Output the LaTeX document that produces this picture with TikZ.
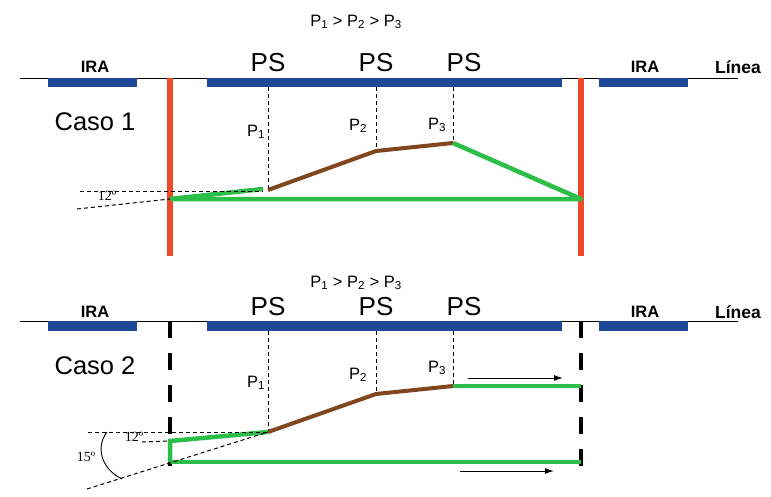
\documentclass[tikz,border=0pt]{standalone}
\usepackage{fontspec}
\setmainfont{Liberation Sans}
\newfontfamily\degfont{Liberation Serif}
\usetikzlibrary{arrows.meta}
\definecolor{barblue}{RGB}{32,72,152}
\definecolor{wallred}{RGB}{238,72,40}
\definecolor{flowgreen}{RGB}{44,190,72}
\definecolor{pathbrown}{RGB}{128,70,30}
\tikzset{
  baseline/.style={line width=1pt,black},
  bar/.style={fill=barblue,draw=none},
  redwall/.style={wallred,line width=6pt},
  blackwall/.style={black,line width=4.5pt,dash pattern=on 17pt off 15pt},
  greenline/.style={flowgreen,line width=4.5pt},
  brownline/.style={pathbrown,line width=4pt,line join=round},
  thindash/.style={black,line width=1pt,dash pattern=on 4pt off 3pt},
  iralabel/.style={font=\fontsize{16.5}{16.5}\selectfont\bfseries},
  linealabel/.style={font=\fontsize{17.5}{17.5}\selectfont\bfseries},
  pslabel/.style={font=\fontsize{26}{26}\selectfont},
  casolabel/.style={font=\fontsize{25.5}{25.5}\selectfont},
  plabel/.style={font=\fontsize{16.5}{16.5}\selectfont},
  toplabel/.style={font=\fontsize{16.5}{16.5}\selectfont},
  deglabel/.style={font=\degfont\fontsize{14}{14}\selectfont},
  flowarrow/.style={black,line width=1pt,-{Latex[length=9pt,width=6pt]}}
}
\begin{document}
\begin{tikzpicture}[x=1pt,y=-1pt]
\useasboundingbox (0,0) rectangle (771,496);

% ===================== Caso 1 =====================
\node[toplabel] (top1) at (356,22) {P\textsubscript{1} > P\textsubscript{2} > P\textsubscript{3}};
\coordinate (l1a) at (20,78);
\coordinate (l1b) at (738,78);
\draw[baseline] (l1a) -- (l1b);
\fill[bar] (48,78) rectangle (137,87);
\fill[bar] (207,78) rectangle (562,87);
\fill[bar] (599,78) rectangle (688,87);
\node[iralabel] (ira1l) at (95,67) {IRA};
\node[iralabel] (ira1r) at (645,67) {IRA};
\node[linealabel] (linea1) at (738,67) {Línea};
\node[pslabel] (ps1a) at (268,63) {PS};
\node[pslabel] (ps1b) at (376,63) {PS};
\node[pslabel] (ps1c) at (464,63) {PS};
\node[casolabel] (caso1) at (95,122) {Caso 1};

\coordinate (r1top) at (170,78);
\coordinate (r1bot) at (170,256);
\coordinate (r2top) at (581,78);
\coordinate (r2bot) at (581,256);
\draw[redwall] (r1top) -- (r1bot);
\draw[redwall] (r2top) -- (r2bot);

\coordinate (p1t) at (268,87);
\coordinate (p1b) at (268,190);
\coordinate (p2t) at (376,87);
\coordinate (p2b) at (376,151);
\coordinate (p3t) at (453,87);
\coordinate (p3b) at (453,143);
\draw[thindash] (p1t) -- (p1b);
\draw[thindash] (p2t) -- (p2b);
\draw[thindash] (p3t) -- (p3b);
\node[plabel] (lp1a) at (256,132) {P\textsubscript{1}};
\node[plabel] (lp2a) at (358,126) {P\textsubscript{2}};
\node[plabel] (lp3a) at (437,125) {P\textsubscript{3}};

\draw[brownline] (p1b) -- (p2b) -- (p3b);

\coordinate (g1a) at (170,199);
\coordinate (g1b) at (263,189);
\coordinate (g1c) at (581,199);
\draw[greenline,line join=round] (p3b) -- (g1c) -- (g1a);
\draw[greenline] (g1a) -- (g1b);

\coordinate (h1a) at (80,191);
\coordinate (h1b) at (263,191);
\coordinate (o1a) at (77,209);
\draw[thindash] (h1a) -- (h1b);
\draw[thindash] (o1a) -- (g1a);
\node[deglabel] (deg1) at (107,196) {12º};

% ===================== Caso 2 =====================
\node[toplabel] (top2) at (356,283) {P\textsubscript{1} > P\textsubscript{2} > P\textsubscript{3}};
\coordinate (l2a) at (20,321);
\coordinate (l2b) at (738,321);
\draw[baseline] (l2a) -- (l2b);
\fill[bar] (48,321) rectangle (137,331);
\fill[bar] (207,321) rectangle (562,331);
\fill[bar] (599,321) rectangle (688,331);
\node[iralabel] (ira2l) at (95,312) {IRA};
\node[iralabel] (ira2r) at (645,312) {IRA};
\node[linealabel] (linea2) at (738,312) {Línea};
\node[pslabel] (ps2a) at (268,307) {PS};
\node[pslabel] (ps2b) at (376,307) {PS};
\node[pslabel] (ps2c) at (464,307) {PS};
\node[casolabel] (caso2) at (95,366) {Caso 2};

\coordinate (b1top) at (170,321);
\coordinate (b1bot) at (170,470);
\coordinate (b2top) at (581,321);
\coordinate (b2bot) at (581,470);
\draw[blackwall] (b1top) -- (b1bot);
\draw[blackwall] (b2top) -- (b2bot);

\coordinate (q1t) at (268,331);
\coordinate (q1b) at (268,432);
\coordinate (q2t) at (376,331);
\coordinate (q2b) at (376,394);
\coordinate (q3t) at (453,331);
\coordinate (q3b) at (453,386);
\draw[thindash] (q1t) -- (q1b);
\draw[thindash] (q2t) -- (q2b);
\draw[thindash] (q3t) -- (q3b);
\node[plabel] (lp1b) at (256,383) {P\textsubscript{1}};
\node[plabel] (lp2b) at (358,375) {P\textsubscript{2}};
\node[plabel] (lp3b) at (437,368) {P\textsubscript{3}};

\draw[brownline] (q1b) -- (q2b) -- (q3b);

\coordinate (g2a) at (581,386);
\coordinate (g2b) at (170,462);
\coordinate (g2c) at (581,462);
\coordinate (g2d) at (170,441);
\draw[greenline] (q3b) -- (g2a);
\draw[greenline] (g2b) -- (g2c);
\draw[greenline,line join=miter] (g2b) -- (g2d) -- (q1b);

\coordinate (h2a) at (88,432);
\coordinate (h2c) at (142,442);
\coordinate (o2a) at (87,489);
\draw[thindash] (h2a) -- (q1b);
\draw[thindash] (h2c) -- (g2d);
\draw[thindash] (o2a) -- (q1b);
\coordinate (arcA) at (107,432);
\coordinate (arcB) at (122,479);
\draw[black,line width=0.9pt] (arcA) .. controls (96,446) and (100,468) .. (arcB);
\node[deglabel] (deg2a) at (134,437) {12º};
\node[deglabel] (deg2b) at (86,457) {15º};

\coordinate (a1s) at (468,378);
\coordinate (a1e) at (563,378);
\coordinate (a2s) at (460,471);
\coordinate (a2e) at (554,471);
\draw[flowarrow] (a1s) -- (a1e);
\draw[flowarrow] (a2s) -- (a2e);
\end{tikzpicture}
\end{document}
